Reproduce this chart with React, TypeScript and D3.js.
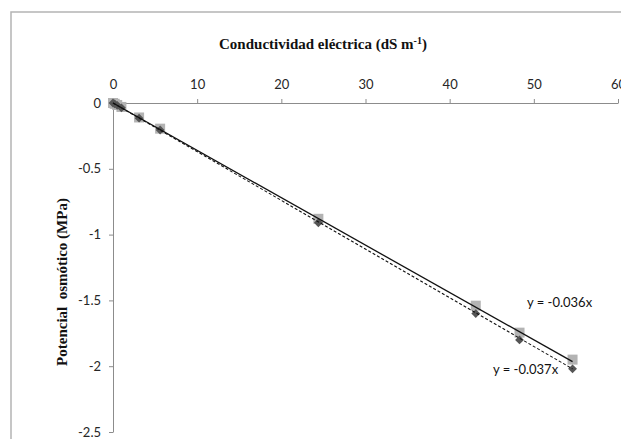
import { useEffect, useRef } from 'react';
import * as d3 from 'd3';

// conductividad eléctrica (dS m-1)
const ceValues = [0, 0.2, 0.5, 1, 3.1, 5.6, 24.4, 43.1, 48.3, 54.6];
// potencial osmótico medido (cuadrados) y calculado (rombos)
const seriesSquares = [0, -0.006, -0.015, -0.03, -0.11, -0.195, -0.88, -1.54, -1.745, -1.95];
const seriesDiamonds = [0, -0.007, -0.018, -0.037, -0.115, -0.205, -0.91, -1.6, -1.8, -2.02];
const slopes = [-0.036, -0.037];
const xTicks = [0, 10, 20, 30, 40, 50, 60];
const yTicks = [0, -0.5, -1, -1.5, -2, -2.5];

const App = () => {
  const svgRef = useRef<SVGSVGElement>(null);

  useEffect(() => {
    if (!svgRef.current) return;
    const W = 621;
    const H = 439;
    const svg = d3.select(svgRef.current);
    svg.selectAll('*').remove();

    const x = d3.scaleLinear().domain([0, 60]).range([113, 618]);
    const y = d3.scaleLinear().domain([0, -2.5]).range([103, 432]);

    // chart frame
    svg.append('rect')
      .attr('x', 11).attr('y', 12)
      .attr('width', W + 50).attr('height', H + 50)
      .attr('fill', '#fff')
      .attr('stroke', '#b4b4b4')
      .attr('stroke-width', 1.5);

    const sans = 'Lato, "Open Sans", sans-serif';
    const serif = '"Liberation Serif", "DejaVu Serif", serif';

    // x axis at top
    const gx = svg.append('g').attr('transform', `translate(0,${y(0)})`)
      .call(d3.axisTop(x).tickValues(xTicks).tickSize(4).tickSizeOuter(0).tickPadding(10)
        .tickFormat(d => String(d)));
    gx.select('.domain').attr('stroke', '#8c8c8c');
    gx.selectAll('line').attr('stroke', '#8c8c8c');
    gx.selectAll('text').style('font-family', sans).style('font-size', '13px').attr('fill', '#262626');

    // y axis
    const gy = svg.append('g').attr('transform', `translate(${x(0)},0)`)
      .call(d3.axisLeft(y).tickValues(yTicks).tickSize(4).tickSizeOuter(0).tickPadding(8)
        .tickFormat(d => String(d)));
    gy.select('.domain').attr('stroke', '#8c8c8c');
    gy.selectAll('line').attr('stroke', '#8c8c8c');
    gy.selectAll('text').style('font-family', sans).style('font-size', '13px').attr('fill', '#262626');
    gy.selectAll('.tick').filter(d => d === 0).select('line').remove();

    // squares
    const sq = 10;
    svg.append('g').selectAll('rect')
      .data(ceValues.map((c, i) => [c, seriesSquares[i]]))
      .enter().append('rect')
      .attr('x', d => x(d[0]) - sq / 2)
      .attr('y', d => y(d[1]) - sq / 2)
      .attr('width', sq).attr('height', sq)
      .attr('fill', '#b3b3b3');

    // diamonds
    const diamond = d3.symbol().type(d3.symbolDiamond2).size(50);
    svg.append('g').selectAll('path')
      .data(ceValues.map((c, i) => [c, seriesDiamonds[i]]))
      .enter().append('path')
      .attr('transform', d => `translate(${x(d[0])},${y(d[1])})`)
      .attr('d', diamond)
      .attr('fill', '#555');

    // trend lines
    const xMax = d3.max(ceValues) as number;
    const line = d3.line<number>().x(d => x(d)).y(d => y(d));
    svg.append('path')
      .attr('d', d3.line<number>().x(d => x(d)).y(d => y(d * slopes[0]))([0, xMax]))
      .attr('stroke', '#111').attr('stroke-width', 1.3).attr('fill', 'none');
    svg.append('path')
      .attr('d', d3.line<number>().x(d => x(d)).y(d => y(d * slopes[1]))([0, xMax]))
      .attr('stroke', '#111').attr('stroke-width', 1.1).attr('fill', 'none')
      .attr('stroke-dasharray', '3,2');
    void line;

    // equation labels
    svg.append('text')
      .attr('x', 527).attr('y', 307)
      .style('font-family', sans).style('font-size', '13px').attr('fill', '#111')
      .text('y = -0.036x');
    svg.append('text')
      .attr('x', 493).attr('y', 374)
      .style('font-family', sans).style('font-size', '13px').attr('fill', '#111')
      .text('y = -0.037x');

    // titles
    const title = svg.append('text')
      .attr('x', 323).attr('y', 49)
      .attr('text-anchor', 'middle')
      .style('font-family', serif).style('font-size', '15px').style('font-weight', 'bold')
      .attr('fill', '#111');
    title.append('tspan').text('Conductividad eléctrica (dS m');
    title.append('tspan').attr('dy', -5).style('font-size', '10px').text('-1');
    title.append('tspan').attr('dy', 5).text(')');

    svg.append('text')
      .attr('transform', 'translate(67,282) rotate(-90)')
      .attr('text-anchor', 'middle')
      .style('font-family', serif).style('font-size', '15px').style('font-weight', 'bold')
      .attr('fill', '#111')
      .attr('xml:space', 'preserve')
      .style('white-space', 'pre')
      .text('Potencial  osmótico (MPa)');
  }, []);

  return (
    <svg
      ref={svgRef}
      width={621}
      height={439}
      style={{ position: 'absolute', left: 0, top: 0, background: '#fff' }}
    />
  );
};

export default App;
